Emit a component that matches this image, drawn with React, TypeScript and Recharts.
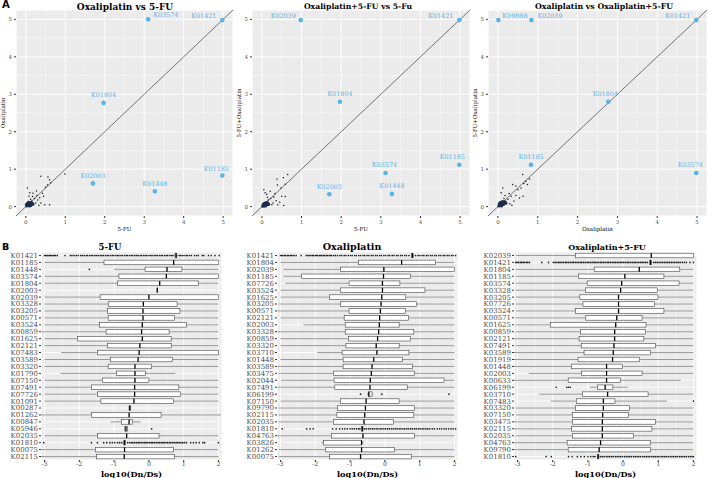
import React from 'react';
import {
  ScatterChart, Scatter, ComposedChart, Bar, XAxis, YAxis,
  CartesianGrid, ReferenceLine, Label,
} from 'recharts';

const SERIF = '"DejaVu Serif", "Liberation Serif", serif';
const SANS = '"DejaVu Sans", "Liberation Sans", sans-serif';
const BLUE = '#56B4E9';
const GREY_TEXT = '#4D4D4D';
const PANEL_BG = '#EBEBEB';

// ---------------- Panel A data ----------------
const SC_TICKS = [0, 1, 2, 3, 4, 5];
const SC_MINOR = [0.5, 1.5, 2.5, 3.5, 4.5];
const SC_MIN = -0.25;
const SC_MAX = 5.25;

const A1_LABELED = [
  { name: 'K03574', x: 3.1, y: 5.0 },
  { name: 'K01421', x: 4.98, y: 4.98 },
  { name: 'K01804', x: 1.97, y: 2.77 },
  { name: 'K02003', x: 1.7, y: 0.62 },
  { name: 'K01448', x: 3.27, y: 0.41 },
  { name: 'K01185', x: 4.98, y: 0.83 },
];
const A2_LABELED = [
  { name: 'K02039', x: 0.98, y: 4.98 },
  { name: 'K01421', x: 4.98, y: 4.98 },
  { name: 'K01804', x: 1.97, y: 2.8 },
  { name: 'K03574', x: 3.12, y: 0.9 },
  { name: 'K01185', x: 4.98, y: 1.12 },
  { name: 'K02003', x: 1.7, y: 0.33 },
  { name: 'K01448', x: 3.28, y: 0.34 },
];
const A3_LABELED = [
  { name: 'K09888', x: 0.01, y: 4.98 },
  { name: 'K02039', x: 0.84, y: 4.98 },
  { name: 'K01421', x: 4.98, y: 4.98 },
  { name: 'K01804', x: 2.77, y: 2.8 },
  { name: 'K01185', x: 0.83, y: 1.12 },
  { name: 'K03574', x: 4.98, y: 0.9 },
];

const A1_DOTS = [
  [0.38, 0.81], [0.56, 0.79], [0.6, 0.72], [0.63, 0.64], [0.99, 0.87], [0.04, 0.5],
  [0.1, 0.37], [0.18, 0.36], [0.27, 0.42], [0.35, 0.24], [0.42, 0.36], [0.48, 0.05],
  [0.38, 0.1], [0.3, 0.18], [0.22, 0.22], [0.2, 0.05], [0.15, 0.15], [0.55, 0.58],
  [0.5, 0.52], [0.33, 0.03], [0.25, 0.1], [0.12, 0.2], [0.45, 0.28], [0.08, 0.28],
  [0.6, 0.05], [0.17, 0.27], [0.28, 0.3],
];
const A1_BLOB = [
  [0.02, 0.02], [0.04, 0.05], [0.06, 0.03], [0.08, 0.07], [0.1, 0.05], [0.05, 0.1],
  [0.12, 0.09], [0.03, 0.08], [0.07, 0.12], [0.14, 0.06], [0.09, 0.02], [0.01, 0.05],
  [0.11, 0.11], [0.06, 0.07], [0.13, 0.03], [0.16, 0.1], [0.18, 0.07],
];
const A2_DOTS = [
  [0.65, 0.86], [0.54, 0.77], [0.59, 0.6], [0.38, 0.74], [0.39, 0.58], [0.08, 0.37],
  [0.12, 0.33], [0.21, 0.41], [0.5, 0.28], [0.59, 0.27], [0.36, 0.16], [0.28, 0.1],
  [0.4, 0.05], [0.22, 0.22], [0.16, 0.18], [0.3, 0.26], [0.45, 0.12], [0.05, 0.45],
  [0.25, 0.05], [0.14, 0.25], [0.48, 0.5], [0.33, 0.35], [0.18, 0.08], [0.55, 0.03],
];
const A2_BLOB = [
  [0.02, 0.01], [0.04, 0.04], [0.06, 0.02], [0.08, 0.06], [0.1, 0.04], [0.05, 0.08],
  [0.12, 0.08], [0.03, 0.06], [0.07, 0.1], [0.14, 0.05], [0.09, 0.02], [0.11, 0.1],
  [0.15, 0.09], [0.17, 0.06], [0.13, 0.12],
];
const A3_DOTS = [
  [0.62, 0.86], [0.7, 0.68], [0.74, 0.59], [0.79, 0.74], [0.37, 0.59], [0.45, 0.55],
  [0.08, 0.37], [0.12, 0.5], [0.33, 0.28], [0.45, 0.3], [0.54, 0.23], [0.25, 0.2],
  [0.3, 0.08], [0.2, 0.12], [0.63, 0.28], [0.65, 0.62], [0.18, 0.3], [0.4, 0.15],
  [0.5, 0.45], [0.28, 0.35], [0.15, 0.22], [0.58, 0.5], [0.1, 0.15], [0.35, 0.04],
];
const A3_BLOB = [
  [0.02, 0.02], [0.04, 0.05], [0.06, 0.03], [0.08, 0.07], [0.1, 0.05], [0.05, 0.1],
  [0.12, 0.09], [0.03, 0.08], [0.07, 0.12], [0.14, 0.06], [0.09, 0.02], [0.16, 0.1],
  [0.18, 0.13], [0.2, 0.09], [0.13, 0.14], [0.11, 0.12],
];

// label placement (style, not data)
const A1_PLACE: Record<string, any> = {
  K03574: { dx: 5, dy: -4, anchor: 'start' },
  K01421: { dx: -6, dy: -4, anchor: 'end' },
  K01804: { dx: 0, dy: -7.5, anchor: 'middle' },
  K02003: { dx: 0, dy: -7.5, anchor: 'middle' },
  K01448: { dx: 0, dy: -7.5, anchor: 'middle' },
  K01185: { dx: -6, dy: -7, anchor: 'middle' },
};
const A2_PLACE: Record<string, any> = {
  K02039: { dx: -5, dy: -4, anchor: 'end' },
  K01421: { dx: -6, dy: -4, anchor: 'end' },
  K01804: { dx: 0, dy: -7.5, anchor: 'middle' },
  K03574: { dx: -1, dy: -7.5, anchor: 'middle' },
  K01185: { dx: -7, dy: -7.5, anchor: 'middle' },
  K02003: { dx: 0, dy: -7.5, anchor: 'middle' },
  K01448: { dx: 0, dy: -7.5, anchor: 'middle' },
};
const A3_PLACE: Record<string, any> = {
  K09888: { dx: 4, dy: -4, anchor: 'start' },
  K02039: { dx: 6, dy: -4, anchor: 'start' },
  K01421: { dx: -6, dy: -4, anchor: 'end' },
  K01804: { dx: -3, dy: -7.5, anchor: 'middle' },
  K01185: { dx: 0, dy: -7.5, anchor: 'middle' },
  K03574: { dx: -6, dy: -7.5, anchor: 'middle' },
};

// ---------------- Panel B data ----------------
const B_MIN = -3.1;
const B_MAX = 2.1;
const B_TICKS = [-3, -2, -1, 0, 1, 2];
const B_MINOR = [-2.5, -1.5, -0.5, 0.5, 1.5];

const B1_NAMES = ['K01421', 'K01185', 'K01448', 'K03574', 'K01804', 'K02003', 'K02039', 'K03328', 'K03205', 'K00571',
  'K03524', 'K00859', 'K01625', 'K02121', 'K07483', 'K03589', 'K03320', 'K01790', 'K07150', 'K07491',
  'K07726', 'K01091', 'K00287', 'K01262', 'K00847', 'K05946', 'K02035', 'K01810', 'K00075', 'K02115'];
// [lower whisker, q1, median, q3, upper whisker]
const B1_STATS = [
  [0.72, 0.75, 0.78, 0.8, 0.84], [-3.0, -1.29, 0.71, 2.0, 2.0], [-1.0, -0.11, 0.52, 0.95, 2.0],
  [-3.0, -0.86, 0.5, 2.0, 2.0], [-3.0, -0.9, 0.31, 1.43, 2.0], [0.24, 0.24, 0.24, 0.24, 0.24],
  [-3.0, -1.4, 0.0, 2.0, 2.0], [-3.0, -1.17, -0.16, 0.81, 2.0], [-3.0, -1.19, -0.17, 0.89, 2.0],
  [-3.0, -1.17, -0.17, 0.74, 2.0], [-3.0, -1.42, -0.19, 1.08, 2.0], [-3.08, -1.23, -0.21, 0.58, 2.0],
  [-3.0, -2.05, -0.19, 0.64, 2.0], [-3.0, -1.19, -0.26, 0.64, 2.0], [-2.52, -1.48, -0.28, 2.0, 2.0],
  [-3.0, -1.11, -0.31, 0.67, 2.0], [-3.0, -1.17, -0.4, 0.08, 2.0], [-2.54, -0.93, -0.4, -0.1, 0.76],
  [-3.0, -1.34, -0.4, 0.0, 2.0], [-3.0, -1.65, -0.41, 0.86, 2.0], [-3.0, -1.48, -0.41, 0.9, 2.0],
  [-3.0, -1.38, -0.43, 0.71, 2.0], [-0.58, -0.57, -0.55, -0.52, -0.51], [-3.11, -1.65, -0.57, 0.35, 2.07],
  [-1.1, -0.79, -0.57, -0.48, -0.24], [-0.7, -0.69, -0.66, -0.62, -0.61], [-3.0, -1.48, -0.64, 0.29, 2.0],
  [-0.74, -0.72, -0.7, -0.68, -0.66], [-3.11, -1.54, -0.7, 0.71, 2.0], [-3.11, -1.5, -0.71, 0.73, 2.0],
];
const B1_OUTLIERS: Record<string, number[]> = {
  K01421: [-3.0, -2.97, -2.93, -2.9, -2.86, -2.83, -2.79, -2.75, -2.71, -2.68, -2.63, -2.41, -2.26, -2.21, -2.15, -2.09,
    -2.03, -1.96, -1.91, -1.86, -1.8, -1.76, -1.7, -1.65, -1.61, -1.55, -1.51, -1.46, -1.4, -1.35, -1.31, -1.25,
    -1.2, -1.16, -1.1, -1.05, -1.01, -0.95, -0.9, -0.86, -0.8, -0.76, -0.7, -0.65, -0.61, -0.55, -0.5, -0.46,
    -0.4, -0.35, -0.31, -0.25, -0.21, -0.15, -0.1, -0.06, 0.0, 0.05, 0.09, 0.15, 0.2, 0.24, 0.3, 0.35, 0.39,
    0.45, 0.5, 0.54, 0.6, 0.65, 0.69, 0.87, 0.91, 0.96, 1.01, 1.07, 1.11, 1.17, 1.22, 1.31, 1.37, 1.42, 1.53,
    1.58, 1.71, 1.79, 1.9, 2.02],
  K01448: [-1.71],
  K05946: [0.08],
  K01810: [-3.02, -1.65, -1.48, -1.3, -1.21, -1.12, -1.05, -0.98, -0.9, -0.84, -0.78, -0.61, -0.55, -0.5, -0.46,
    -0.41, -0.36, -0.31, -0.27, -0.22, -0.17, -0.12, -0.08, -0.03, 0.02, 0.07, 0.11, 0.16, 0.21, 0.26, 0.3,
    0.35, 0.4, 0.44, 0.49, 0.54, 0.59, 0.63, 0.68, 0.73, 0.78, 0.82, 0.87, 0.92, 0.97, 1.02, 1.08, 1.2, 1.28,
    1.36, 1.45, 1.55, 1.6, 2.0],
};

const B2_NAMES = ['K01421', 'K01804', 'K02039', 'K01185', 'K07726', 'K03524', 'K01625', 'K03205', 'K00571', 'K02121',
  'K02003', 'K03328', 'K00859', 'K03320', 'K03710', 'K01448', 'K03589', 'K03475', 'K02044', 'K07491',
  'K06199', 'K07150', 'K09790', 'K02115', 'K02035', 'K01810', 'K04763', 'K03826', 'K01262', 'K00075'];
const B2_STATS = [
  [0.74, 0.77, 0.79, 0.81, 0.84], [-3.0, -0.76, 0.48, 1.45, 2.0], [-2.92, -1.28, -0.03, 2.0, 2.0],
  [-2.92, -2.39, -0.04, 0.74, 2.0], [-2.86, -1.03, -0.07, 0.43, 2.0], [-3.0, -1.28, -0.07, 1.15, 2.0],
  [-3.0, -1.59, -0.09, 0.6, 2.0], [-3.05, -1.28, -0.11, 0.9, 2.0], [-3.09, -1.03, -0.13, 0.59, 2.0],
  [-3.0, -1.17, -0.15, 0.68, 2.0], [-2.34, -1.14, -0.16, 0.41, 2.0], [-3.09, -1.14, -0.18, 0.83, 2.0],
  [-3.0, -1.05, -0.21, 0.74, 2.0], [-3.0, -1.12, -0.25, 0.41, 2.0], [-1.94, -1.23, -0.23, 0.69, 2.0],
  [-3.0, -1.2, -0.32, 0.5, 2.0], [-3.08, -1.2, -0.37, 0.79, 2.0], [-3.05, -1.48, -0.39, 0.85, 2.0],
  [-2.98, -1.46, -0.42, 1.7, 2.0], [-3.08, -1.44, -0.43, 0.65, 2.0], [-0.52, -0.48, -0.46, -0.37, -0.33],
  [-3.0, -1.28, -0.54, 0.41, 2.0], [-3.05, -1.36, -0.56, 0.85, 2.0], [-3.05, -1.38, -0.58, 0.83, 2.0],
  [-3.05, -1.48, -0.6, 0.24, 2.0], [-0.69, -0.67, -0.65, -0.63, -0.6], [-3.09, -1.54, -0.63, 0.85, 2.0],
  [-1.83, -1.76, -0.67, -0.67, -0.6], [-3.05, -1.7, -0.67, 0.27, 2.0], [-3.05, -1.59, -0.7, 0.76, 2.0],
];
const B2_OUTLIERS: Record<string, number[]> = {
  K01421: [-3.0, -2.96, -2.93, -2.88, -2.85, -2.8, -2.77, -2.72, -2.69, -2.64, -2.61, -2.55, -2.41, -2.26, -2.21,
    -2.17, -2.12, -2.08, -2.05, -2.0, -1.96, -1.93, -1.88, -1.84, -1.81, -1.76, -1.73, -1.68, -1.65, -1.6,
    -1.56, -1.53, -1.47, -1.42, -1.36, -1.29, -1.24, -1.17, -1.12, -1.05, -0.99, -0.94, -0.87, -0.82, -0.75,
    -0.7, -0.63, -0.58, -0.51, -0.46, -0.39, -0.34, -0.27, -0.22, -0.15, -0.1, -0.03, 0.02, 0.09, 0.14, 0.21,
    0.26, 0.33, 0.38, 0.45, 0.5, 0.57, 0.62, 0.69, 0.88, 0.95, 1.0, 1.07, 1.12, 1.19, 1.24, 1.31, 1.36, 1.43,
    1.48, 1.55, 1.6, 1.67, 1.72, 1.79, 1.84, 1.91, 1.96, 2.03],
  K06199: [-0.7, -0.09, 1.84],
  K01810: [-2.95, -2.25, -2.15, -2.06, -1.5, -1.4, -1.3, -1.22, -1.15, -1.08, -1.0, -0.94, -0.88, -0.82, -0.76,
    -0.72, -0.58, -0.53, -0.47, -0.42, -0.36, -0.31, -0.25, -0.2, -0.14, -0.09, -0.03, 0.02, 0.08, 0.13,
    0.19, 0.24, 0.3, 0.35, 0.41, 0.46, 0.52, 0.57, 0.63, 0.68, 0.74, 0.79, 0.85, 0.9, 0.96, 1.01, 1.07,
    1.12, 1.18, 1.23, 1.29, 1.36, 1.42, 1.5, 1.57, 1.63, 1.7, 1.76, 1.83, 1.9, 1.96, 2.03],
};

const B3_NAMES = ['K02039', 'K01421', 'K01804', 'K01185', 'K03574', 'K03328', 'K03205', 'K07726', 'K03524', 'K00571',
  'K01625', 'K00859', 'K02121', 'K07491', 'K03589', 'K01919', 'K01448', 'K02003', 'K00633', 'K06199',
  'K03710', 'K07483', 'K03320', 'K07150', 'K03475', 'K02115', 'K02035', 'K04763', 'K09790', 'K01810'];
const B3_STATS = [
  [-3.05, -1.35, 0.8, 2.0, 2.0], [0.73, 0.76, 0.78, 0.8, 0.83], [-3.05, -0.82, 0.46, 1.61, 2.0],
  [-3.05, -1.27, 0.05, 1.16, 2.0], [-3.05, -1.02, -0.04, 1.59, 2.0], [-3.05, -1.07, -0.07, 0.97, 2.0],
  [-3.05, -1.23, -0.13, 0.99, 2.0], [-3.05, -1.14, -0.13, 0.89, 2.0], [-3.05, -1.35, -0.13, 1.16, 2.0],
  [-3.05, -1.06, -0.18, 0.54, 2.0], [-3.05, -2.07, -0.21, 0.65, 2.0], [-3.05, -1.21, -0.24, 0.63, 2.0],
  [-3.14, -1.25, -0.24, 0.59, 2.0], [-3.05, -1.19, -0.26, 0.92, 2.0], [-3.1, -1.11, -0.28, 0.78, 2.0],
  [-3.19, -1.28, -0.3, 0.47, 2.0], [-3.1, -1.47, -0.47, -0.02, 2.0], [-2.68, -1.18, -0.47, 0.54, 2.0],
  [-3.1, -1.56, -0.47, -0.08, 1.64], [-0.94, -0.73, -0.51, -0.29, 0.13], [-2.38, -1.15, -0.44, 0.71, 2.0],
  [-2.06, -1.33, -0.56, -0.23, 1.25], [-3.05, -1.35, -0.56, 0.18, 2.0], [-3.05, -1.44, -0.58, 0.15, 2.0],
  [-3.14, -1.44, -0.59, 0.92, 2.0], [-3.1, -1.47, -0.59, 0.82, 2.0], [-3.05, -1.44, -0.59, 0.3, 2.0],
  [-3.14, -1.59, -0.64, 0.78, 2.0], [-3.14, -1.56, -0.68, 0.78, 2.0], [-0.75, -0.73, -0.71, -0.69, -0.66],
];
const B3_OUTLIERS: Record<string, number[]> = {
  K01421: [-3.05, -3.01, -2.97, -2.92, -2.88, -2.84, -2.8, -2.75, -2.71, -2.66, -2.31, -2.12, -1.98, -1.93, -1.88,
    -1.83, -1.79, -1.74, -1.69, -1.64, -1.6, -1.55, -1.5, -1.45, -1.41, -1.36, -1.31, -1.26, -1.21, -1.17,
    -1.12, -1.07, -1.02, -0.98, -0.93, -0.88, -0.83, -0.79, -0.74, -0.69, -0.64, -0.6, -0.55, -0.5, -0.45,
    -0.41, -0.36, -0.31, -0.26, -0.22, -0.17, -0.12, -0.07, -0.03, 0.02, 0.07, 0.12, 0.16, 0.21, 0.26, 0.31,
    0.35, 0.4, 0.45, 0.5, 0.54, 0.59, 0.64, 0.69, 0.87, 0.92, 0.97, 1.02, 1.07, 1.12, 1.17, 1.22, 1.27, 1.32,
    1.37, 1.42, 1.47, 1.52, 1.57, 1.62, 1.68, 1.74, 1.8, 1.9, 2.0],
  K06199: [-1.9, -1.6, -1.55, -1.5],
  K07483: [2.0],
  K01810: [-3.05, -2.19, -2.04, -1.55, -1.45, -1.3, -1.2, -1.1, -1.0, -0.92, -0.85, -0.8, -0.64, -0.59, -0.54,
    -0.48, -0.43, -0.38, -0.33, -0.28, -0.22, -0.17, -0.12, -0.07, -0.02, 0.04, 0.09, 0.14, 0.19, 0.24, 0.3,
    0.35, 0.4, 0.45, 0.5, 0.56, 0.61, 0.66, 0.71, 0.76, 0.82, 0.87, 0.92, 0.97, 1.02, 1.08, 1.13, 1.18,
    1.23, 1.28, 1.34, 1.39, 1.44, 1.49, 1.54, 1.6, 1.65, 1.7, 1.75, 1.8, 1.86, 1.91, 1.96, 2.0],
};

// ---------------- helpers ----------------
const toXY = (arr: number[][]) => arr.map(([x, y]) => ({ x, y }));

const SmallDot = (p: any) => <circle cx={p.cx} cy={p.cy} r={0.75} fill="#1a1a1a" />;
const BlobDot = (p: any) => <circle cx={p.cx} cy={p.cy} r={1.5} fill="#1C2B4A" />;
const makeLabeledDot = (place: Record<string, any>) => (p: any) => {
  const name = p.payload?.name;
  const pl = place[name] || { dx: 0, dy: -7.5, anchor: 'middle' };
  return (
    <g>
      <circle cx={p.cx} cy={p.cy} r={2.3} fill={BLUE} />
      <text x={p.cx + pl.dx} y={p.cy + pl.dy} dominantBaseline="central" textAnchor={pl.anchor}
        fontFamily={SERIF} fontSize={6.4} fill={BLUE}>{name}</text>
    </g>
  );
};

function ScatterPanel({ left, right, labeled, dots, blob, place, xTitle, yTitle }: any) {
  const tick = { fontSize: 5.5, fill: GREY_TEXT, fontFamily: SERIF };
  return (
    <div style={{ position: 'absolute', left, top: 0 }}>
      <ScatterChart width={236} height={232} margin={{ top: 10, right, bottom: 0, left: 0 }}>
        <CartesianGrid fill={PANEL_BG} stroke="#FFFFFF" strokeWidth={0.9} />
        <CartesianGrid xAxisId="m" yAxisId="m" stroke="#FFFFFF" strokeWidth={0.4} />
        <XAxis type="number" dataKey="x" domain={[SC_MIN, SC_MAX]} ticks={SC_TICKS} height={16} tick={tick}
          tickSize={2} tickLine={{ stroke: '#333' }} axisLine={false} interval={0} allowDataOverflow>
          <Label value={xTitle} position="insideBottom" offset={1}
            style={{ fontSize: 5.5, fontFamily: SERIF, fill: '#000' }} />
        </XAxis>
        <YAxis type="number" dataKey="y" domain={[SC_MIN, SC_MAX]} ticks={SC_TICKS} width={16} tick={tick}
          tickSize={2} tickLine={{ stroke: '#333' }} axisLine={false} interval={0} allowDataOverflow>
          <Label value={yTitle} angle={-90} position="insideLeft" offset={3}
            style={{ fontSize: 5.5, fontFamily: SERIF, fill: '#000', textAnchor: 'middle' }} />
        </YAxis>
        <XAxis xAxisId="m" type="number" dataKey="x" domain={[SC_MIN, SC_MAX]} ticks={SC_MINOR} hide allowDataOverflow />
        <YAxis yAxisId="m" type="number" dataKey="y" domain={[SC_MIN, SC_MAX]} ticks={SC_MINOR} hide allowDataOverflow />
        <Scatter data={toXY(dots)} shape={SmallDot} isAnimationActive={false} />
        <ReferenceLine segment={[{ x: SC_MIN, y: SC_MIN }, { x: SC_MAX, y: SC_MAX }]} stroke="#222" strokeWidth={0.6} />
        <Scatter data={toXY(blob)} shape={BlobDot} isAnimationActive={false} />
        <Scatter data={labeled} shape={makeLabeledDot(place)} isAnimationActive={false} />
      </ScatterChart>
    </div>
  );
}

const BoxShape = (props: any) => {
  const { x, y, width, height, payload } = props;
  if (!payload) return null;
  const sx = (v: number) => x + ((v - B_MIN) / (B_MAX - B_MIN)) * width;
  const cy = y + height / 2;
  const bh = 4.6;
  const [lo, q1, med, q3, hi] = payload.stats;
  return (
    <g>
      <line x1={sx(lo)} x2={sx(q1)} y1={cy} y2={cy} stroke="#555" strokeWidth={0.6} />
      <line x1={sx(q3)} x2={sx(hi)} y1={cy} y2={cy} stroke="#555" strokeWidth={0.6} />
      <rect x={sx(q1)} y={cy - bh / 2} width={Math.max(sx(q3) - sx(q1), 0.4)} height={bh}
        fill="#FFFFFF" stroke="#444" strokeWidth={0.6} />
      <line x1={sx(med)} x2={sx(med)} y1={cy - bh / 2} y2={cy + bh / 2} stroke="#000" strokeWidth={1.3} />
      {payload.out.map((v: number, i: number) => (
        <circle key={i} cx={sx(v)} cy={cy} r={0.85} fill="#222" />
      ))}
    </g>
  );
};

function BoxPanel({ left, right, names, stats, outliers }: any) {
  const data = names.map((name: string, i: number) => ({
    name, stats: stats[i], out: outliers[name] || [], frame: [B_MIN, B_MAX],
  }));
  const xtick = { fontSize: 6.3, fill: GREY_TEXT, fontFamily: SERIF };
  const ytick = { fontSize: 7, fill: GREY_TEXT, fontFamily: SERIF };
  return (
    <div style={{ position: 'absolute', left, top: 232 }}>
      <ComposedChart layout="vertical" width={236} height={246} data={data}
        margin={{ top: 20, right, left: 1, bottom: 0 }} barCategoryGap={0}>
        <CartesianGrid fill={PANEL_BG} stroke="#FFFFFF" strokeWidth={0.9} />
        <CartesianGrid xAxisId="m" horizontal={false} stroke="#FFFFFF" strokeWidth={0.4} />
        <XAxis type="number" domain={[B_MIN, B_MAX]} ticks={B_TICKS} height={18} tick={xtick} tickSize={2}
          tickMargin={0} tickLine={{ stroke: '#333' }} axisLine={false} interval={0} allowDataOverflow>
          <Label value="log10(Dn/Ds)" position="insideBottom" offset={1}
            style={{ fontSize: 8.2, fontFamily: SERIF, fontWeight: 'bold', fill: '#000' }} />
        </XAxis>
        <XAxis xAxisId="m" type="number" domain={[B_MIN, B_MAX]} ticks={B_MINOR} hide allowDataOverflow />
        <YAxis type="category" dataKey="name" width={40} tick={ytick} tickSize={2} tickMargin={1}
          tickLine={{ stroke: '#333' }} axisLine={false} interval={0} />
        <Bar dataKey="frame" shape={BoxShape} isAnimationActive={false} />
      </ComposedChart>
    </div>
  );
}

const Title = ({ text, cx, cy, size }: any) => (
  <div style={{
    position: 'absolute', left: cx, top: cy, transform: 'translate(-50%, -50%)', fontFamily: SERIF,
    fontWeight: 'bold', fontSize: size, whiteSpace: 'nowrap', lineHeight: 1, color: '#000',
  }}>{text}</div>
);

export default function App() {
  return (
    <div style={{ position: 'absolute', left: 0, top: 0, width: 708, height: 478, background: '#fff', overflow: 'hidden' }}>
      <ScatterPanel left={0} right={3} labeled={A1_LABELED} dots={A1_DOTS} blob={A1_BLOB} place={A1_PLACE}
        xTitle="5-FU" yTitle="Oxaliplatin" />
      <ScatterPanel left={236} right={2} labeled={A2_LABELED} dots={A2_DOTS} blob={A2_BLOB} place={A2_PLACE}
        xTitle="5-FU" yTitle="5-FU+Oxaliplatin" />
      <ScatterPanel left={472} right={1} labeled={A3_LABELED} dots={A3_DOTS} blob={A3_BLOB} place={A3_PLACE}
        xTitle="Oxaliplatin" yTitle="5-FU+Oxaliplatin" />
      <BoxPanel left={0} right={14} names={B1_NAMES} stats={B1_STATS} outliers={B1_OUTLIERS} />
      <BoxPanel left={236} right={14} names={B2_NAMES} stats={B2_STATS} outliers={B2_OUTLIERS} />
      <BoxPanel left={473} right={12} names={B3_NAMES} stats={B3_STATS} outliers={B3_OUTLIERS} />

      <Title text="Oxaliplatin vs 5-FU" cx={125} cy={7} size={9} />
      <Title text="Oxaliplatin+5-FU vs 5-Fu" cx={358} cy={7} size={7.7} />
      <Title text="Oxaliplatin vs Oxaliplatin+5-FU" cx={604} cy={7} size={7.8} />
      <Title text="5-FU" cx={110} cy={247} size={8.5} />
      <Title text="Oxaliplatin" cx={352} cy={247} size={9.5} />
      <Title text="Oxaliplatin+5-FU" cx={607} cy={247} size={8} />

      <div style={{ position: 'absolute', left: 2, top: 0, fontFamily: SANS, fontWeight: 'bold', fontSize: 10, lineHeight: 1 }}>A</div>
      <div style={{ position: 'absolute', left: 2, top: 242, fontFamily: SANS, fontWeight: 'bold', fontSize: 9.5, lineHeight: 1 }}>B</div>
    </div>
  );
}
